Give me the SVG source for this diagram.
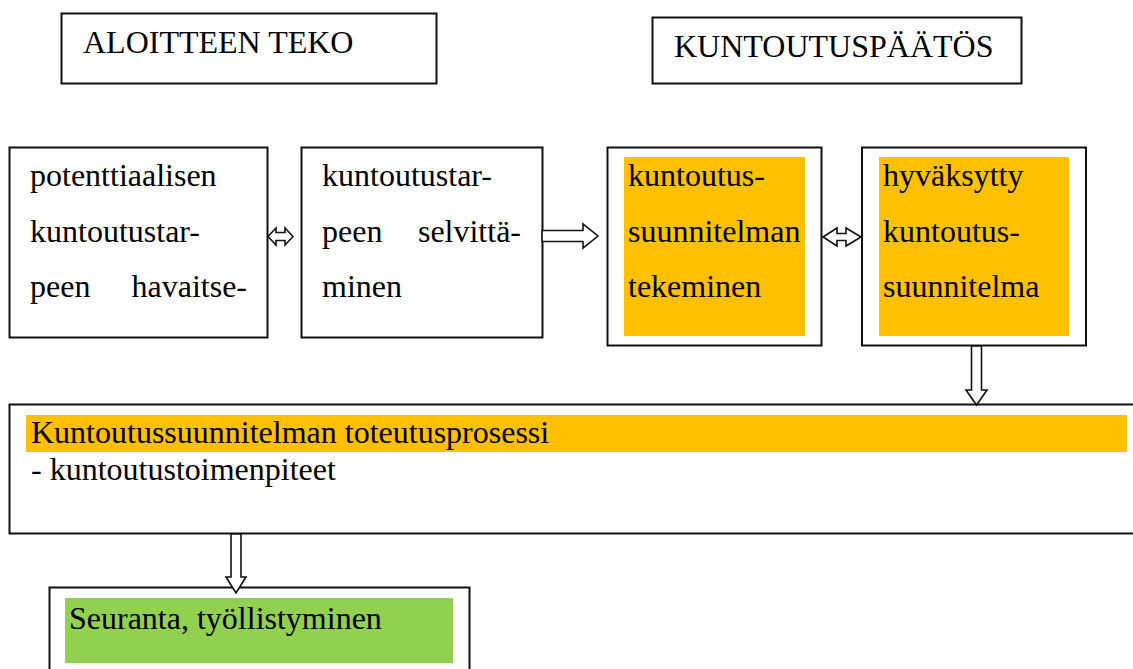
<svg xmlns="http://www.w3.org/2000/svg" width="1133" height="669" viewBox="0 0 1133 669">
<style>
.box{fill:#fff;stroke:#111;stroke-width:2}
.arr{fill:#fff;stroke:#111;stroke-width:1.6;stroke-linejoin:miter}
.or{fill:#FFC000}
.gr{fill:#92D050}
</style>
<rect width="1133" height="669" fill="#fff"/>
<g font-family="Liberation Serif, Tinos, Times New Roman, serif" font-size="32" fill="#000">
<g id="aloite">
<rect class="box" x="61.5" y="13.5" width="375" height="70"/>
<text x="83" y="53">ALOITTEEN TEKO</text>
</g>
<g id="paatos">
<rect class="box" x="652.5" y="17.5" width="369" height="66"/>
<text x="674" y="57">KUNTOUTUSPÄÄTÖS</text>
</g>
<g id="havaitseminen">
<rect class="box" x="9.5" y="147.5" width="258" height="190"/>
<text x="30" y="186">potenttiaalisen</text>
<text x="30" y="242">kuntoutustar-</text>
<text x="30" y="297">peen</text>
<text x="247" y="297" text-anchor="end">havaitse-</text>
</g>
<g id="selvittaminen">
<rect class="box" x="301.5" y="147.5" width="241" height="190"/>
<text x="322" y="186">kuntoutustar-</text>
<text x="322" y="242">peen</text>
<text x="521" y="242" text-anchor="end">selvittä-</text>
<text x="322" y="297">minen</text>
</g>
<g id="tekeminen">
<rect class="box" x="607.5" y="147.5" width="214" height="198"/>
<rect class="or" x="624" y="157" width="181" height="179"/>
<text x="628" y="186">kuntoutus-</text>
<text x="628" y="242">suunnitelman</text>
<text x="628" y="297">tekeminen</text>
</g>
<g id="hyvaksytty">
<rect class="box" x="862" y="147.5" width="224" height="198"/>
<rect class="or" x="879" y="157" width="190" height="179"/>
<text x="883" y="186">hyväksytty</text>
<text x="883" y="242">kuntoutus-</text>
<text x="883" y="297">suunnitelma</text>
</g>
<g id="toteutus">
<rect class="box" x="9.5" y="404.5" width="1135" height="129"/>
<rect class="or" x="26" y="415" width="1101" height="37"/>
<text x="31" y="443">Kuntoutussuunnitelman toteutusprosessi</text>
<text x="31" y="480">- kuntoutustoimenpiteet</text>
</g>
<g id="seuranta">
<rect class="box" x="49.5" y="587.5" width="420" height="95"/>
<rect class="gr" x="65" y="598" width="388" height="65"/>
<text x="69" y="629">Seuranta, työllistyminen</text>
</g>
</g>
<g id="connectors">
<polygon class="arr" points="268,236.5 276,228 276,232.5 285,232.5 285,228 293,236.5 285,245 285,240.5 276,240.5 276,245"/>
<polygon class="arr" points="542,230.5 583,230.5 583,224 598,236 583,248 583,241.5 542,241.5"/>
<polygon class="arr" points="823,237 837,228 837,233.5 846,233.5 846,228 861,237 846,246 846,240.5 837,240.5 837,246"/>
<polygon class="arr" points="971.5,346 981.5,346 981.5,390 987,390 976.5,405 966,390 971.5,390"/>
<polygon class="arr" points="231,534 241,534 241,577 246,577 236,593 226,577 231,577"/>
</g>
</svg>
